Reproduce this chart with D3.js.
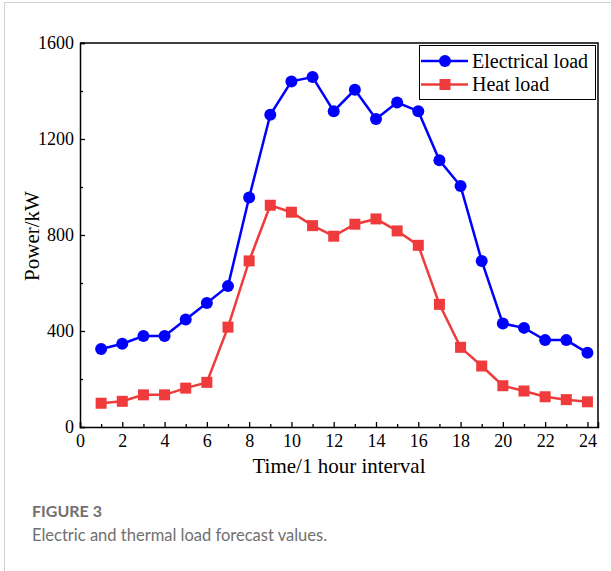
<!DOCTYPE html>
<html>
<head>
<meta charset="utf-8">
<script src="https://cdn.jsdelivr.net/npm/d3@7"></script>
<style>
  body { margin: 0; background: #fff; }
  svg { display: block; }
</style>
</head>
<body>
<svg id="canvas" width="611" height="571"></svg>
<script>
// chart values
let hours = [1, 2, 3, 4, 5, 6, 7, 8, 9, 10, 11, 12, 13, 14, 15, 16, 17, 18, 19, 20, 21, 22, 23, 24]
let electricalLoad = [325, 347, 379, 379, 448, 517, 587, 956, 1301, 1440, 1458, 1316, 1405, 1283, 1352, 1316, 1111, 1004, 692, 431, 413, 362, 362, 309]
let heatLoad = [99, 107, 134, 134, 162, 186, 416, 692, 924, 895, 839, 795, 845, 867, 817, 757, 511, 332, 254, 172, 150, 126, 114, 105]
let xTicks = [0, 2, 4, 6, 8, 10, 12, 14, 16, 18, 20, 22, 24]
let xMinorTicks = [1, 3, 5, 7, 9, 11, 13, 15, 17, 19, 21, 23]
let yTicks = [0, 400, 800, 1200, 1600]
let yMinorTicks = [200, 600, 1000, 1400]
let seriesNames = ['Electrical load', 'Heat load']

let serif = '"Liberation Serif", "Times New Roman", serif'
let blue = '#0000ff'
let red = '#ef3b3b'

let canvas = d3.select('#canvas')

// card border around the figure
canvas.append('path')
    .attr('d', 'M4.5,600 V2.5 H640')
    .attr('fill', 'none')
    .attr('stroke', '#d0d0d0')
    .attr('stroke-width', 1)

let plotLeft = 80, plotRight = 598, plotTop = 43, plotBottom = 427

let x = d3.scaleLinear().domain([0, 24.5]).range([plotLeft, plotRight])
let y = d3.scaleLinear().domain([0, 1600]).range([plotBottom, plotTop])

// axes with inward ticks
let xAxis = canvas.append('g')
    .attr('transform', `translate(0,${plotBottom})`)
    .call(d3.axisBottom(x).tickValues(xTicks).tickSize(-5).tickPadding(7).tickFormat(d3.format('d')))
let xMinor = canvas.append('g')
    .attr('transform', `translate(0,${plotBottom})`)
    .call(d3.axisBottom(x).tickValues(xMinorTicks).tickSize(-3).tickFormat(''))
xMinor.select('.domain').remove()

let yAxis = canvas.append('g')
    .attr('transform', `translate(${plotLeft},0)`)
    .call(d3.axisLeft(y).tickValues(yTicks).tickSize(-5).tickPadding(6).tickFormat(d3.format('d')))
let yMinor = canvas.append('g')
    .attr('transform', `translate(${plotLeft},0)`)
    .call(d3.axisLeft(y).tickValues(yMinorTicks).tickSize(-3).tickFormat(''))
yMinor.select('.domain').remove()

canvas.selectAll('.domain').attr('stroke', '#000').attr('stroke-width', 1.5)
canvas.selectAll('.tick line').attr('stroke', '#000').attr('stroke-width', 1.3)
canvas.selectAll('.tick text')
    .attr('font-family', serif)
    .attr('font-size', 18)
    .attr('fill', '#000')

// top and right frame
canvas.append('path')
    .attr('d', `M${plotLeft},${plotTop} H${plotRight} V${plotBottom}`)
    .attr('fill', 'none')
    .attr('stroke', '#000')
    .attr('stroke-width', 1.5)

// axis titles
canvas.append('text')
    .attr('x', (plotLeft + plotRight) / 2)
    .attr('y', 473)
    .attr('text-anchor', 'middle')
    .attr('font-family', serif)
    .attr('font-size', 21)
    .text('Time/1 hour interval')

canvas.append('text')
    .attr('transform', `translate(39,${(plotTop + plotBottom) / 2 + 1}) rotate(-90)`)
    .attr('text-anchor', 'middle')
    .attr('font-family', serif)
    .attr('font-size', 21)
    .text('Power/kW')

// lines and markers
let line = d3.line()
    .x((d, i) => x(hours[i]))
    .y(d => y(d))

canvas.append('path')
    .datum(heatLoad)
    .attr('d', line)
    .attr('fill', 'none')
    .attr('stroke', red)
    .attr('stroke-width', 2.5)

canvas.selectAll('.heat')
    .data(heatLoad)
    .enter()
    .append('rect')
    .attr('class', 'heat')
    .attr('x', (d, i) => x(hours[i]) - 5.5)
    .attr('y', d => y(d) - 5.5)
    .attr('width', 11)
    .attr('height', 11)
    .attr('fill', red)

canvas.append('path')
    .datum(electricalLoad)
    .attr('d', line)
    .attr('fill', 'none')
    .attr('stroke', blue)
    .attr('stroke-width', 2.5)

canvas.selectAll('.elec')
    .data(electricalLoad)
    .enter()
    .append('circle')
    .attr('class', 'elec')
    .attr('cx', (d, i) => x(hours[i]))
    .attr('cy', d => y(d))
    .attr('r', 6)
    .attr('fill', blue)

// legend
let legend = canvas.append('g')
legend.append('rect')
    .attr('x', 419.5)
    .attr('y', 45.5)
    .attr('width', 176)
    .attr('height', 54)
    .attr('fill', '#fff')
    .attr('stroke', '#000')
    .attr('stroke-width', 1)

let legendColors = [blue, red]
seriesNames.forEach((name, i) => {
    let ly = 61 + i * 23.5
    legend.append('line')
        .attr('x1', 421).attr('x2', 468)
        .attr('y1', ly).attr('y2', ly)
        .attr('stroke', legendColors[i])
        .attr('stroke-width', 2.5)
    if (i === 0) {
        legend.append('circle')
            .attr('cx', 445).attr('cy', ly).attr('r', 6)
            .attr('fill', blue)
    } else {
        legend.append('rect')
            .attr('x', 439.5).attr('y', ly - 5.5)
            .attr('width', 11).attr('height', 11)
            .attr('fill', red)
    }
    legend.append('text')
        .attr('x', 472)
        .attr('y', ly + 6.5)
        .attr('font-family', serif)
        .attr('font-size', 20)
        .text(name)
})

// caption
canvas.append('text')
    .attr('x', 32)
    .attr('y', 517)
    .attr('font-family', 'Lato, "Open Sans", sans-serif')
    .attr('font-size', 16)
    .attr('font-weight', 700)
    .attr('fill', '#707070')
    .text('FIGURE 3')

canvas.append('text')
    .attr('x', 32)
    .attr('y', 541)
    .attr('font-family', 'Lato, "Open Sans", sans-serif')
    .attr('font-size', 16.5)
    .attr('fill', '#707070')
    .text('Electric and thermal load forecast values.')
</script>
</body>
</html>
